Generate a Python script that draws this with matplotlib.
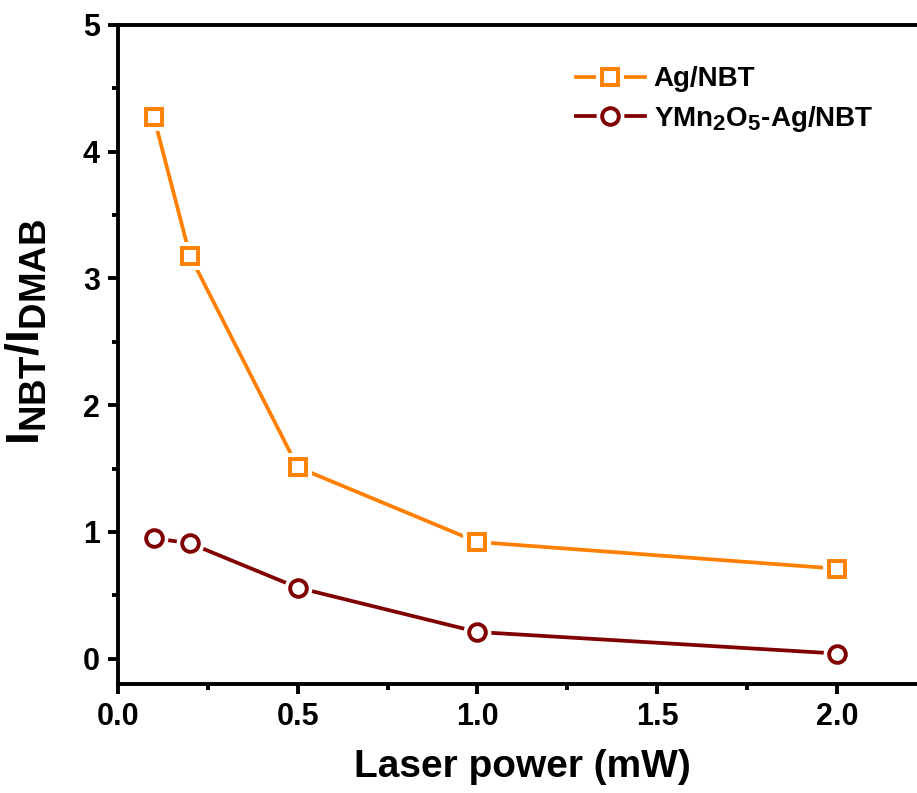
import matplotlib
matplotlib.use("Agg")
import matplotlib.pyplot as plt
import matplotlib._mathtext as _mt
from matplotlib.legend_handler import HandlerTuple
from matplotlib.ticker import MultipleLocator

_mt.SHRINK_FACTOR = 0.8

plt.rcParams['font.family'] = ['Liberation Sans', 'DejaVu Sans']
plt.rcParams['font.weight'] = 'bold'
plt.rcParams['mathtext.fontset'] = 'custom'
plt.rcParams['mathtext.rm'] = 'Liberation Sans:bold'
plt.rcParams['mathtext.bf'] = 'Liberation Sans:bold'
plt.rcParams['mathtext.it'] = 'Liberation Sans:bold'

laser_power = [0.1, 0.2, 0.5, 1.0, 2.0]
ag_nbt = [4.27, 3.18, 1.51, 0.92, 0.71]
ymn_ag_nbt = [0.95, 0.91, 0.56, 0.21, 0.04]
labels = ['Ag/NBT', 'YMn$_2$O$_5$-Ag/NBT']
colors = ['#FF8000', '#800000']
markers = ['s', 'o']

fig = plt.figure(figsize=(9.17, 7.93), dpi=100)
ax = fig.add_axes([0.1287, 0.1375, 0.882, 0.831])

handles = []
for ys, c, m, lab in zip([ag_nbt, ymn_ag_nbt], colors, markers, labels):
    ln, = ax.plot(laser_power, ys, '-', color=c, lw=2.7, zorder=2)
    halo, = ax.plot(laser_power, ys, ls='none', marker=m, ms=20, mfc='white',
                    mec='white', mew=0, zorder=3)
    mk, = ax.plot(laser_power, ys, ls='none', marker=m, ms=12, mfc='white',
                  mec=c, mew=2.8, zorder=4)
    handles.append((ln, halo, mk))

ax.set_xlim(0, 2.25)
ax.set_ylim(-0.2, 5)
ax.xaxis.set_minor_locator(MultipleLocator(0.25))
ax.yaxis.set_major_locator(MultipleLocator(1))
ax.yaxis.set_minor_locator(MultipleLocator(0.5))
ax.set_xticks([0, 0.5, 1.0, 1.5, 2.0])
ax.set_xticklabels(['0.0', '0.5', '1.0', '1.5', '2.0'])

for s in ['left', 'bottom', 'top']:
    ax.spines[s].set_linewidth(2.8)
ax.spines['right'].set_visible(False)
ax.tick_params(which='major', direction='out', length=7, width=2.8,
               labelsize=22, pad=6, top=False, right=False)
ax.tick_params(which='minor', direction='out', length=4, width=2.8,
               top=False, right=False)
for lbl in ax.get_xticklabels() + ax.get_yticklabels():
    lbl.set_fontweight('bold')

ax.set_xlabel('Laser power (mW)', fontsize=28, fontweight='bold', labelpad=12)
ax.set_ylabel(r'$\mathbf{I_{NBT}/I_{DMAB}}$', fontsize=33)
ax.yaxis.set_label_coords(-0.085, 0.535)

leg = ax.legend(handles, labels, handler_map={tuple: HandlerTuple(ndivide=1)},
                loc='upper left', bbox_to_anchor=(0.535, 0.975), frameon=False,
                prop={'weight': 'bold', 'size': 20}, handlelength=2.5,
                handletextpad=0.3, labelspacing=0.4)

fig.savefig('out.png', dpi=100)
